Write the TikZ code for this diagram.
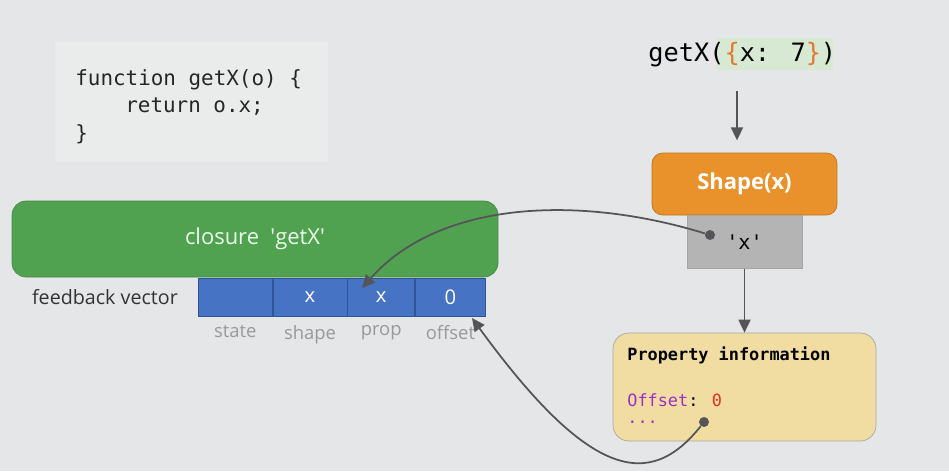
\documentclass[tikz,border=0pt]{standalone}
\usepackage{fontspec}
\setsansfont{Open Sans}
\newfontfamily\codefont{DejaVu Sans Mono}
\usepackage{tikz}
\usetikzlibrary{arrows.meta, positioning}

\definecolor{bgc}{RGB}{229,230,231}
\definecolor{codebg}{RGB}{234,235,235}
\definecolor{closureg}{RGB}{80,161,80}
\definecolor{shapeor}{RGB}{233,146,44}
\definecolor{keygray}{RGB}{180,180,181}
\definecolor{infoyel}{RGB}{241,221,162}
\definecolor{cellblue}{RGB}{70,115,196}
\definecolor{cellline}{RGB}{47,85,151}
\definecolor{argbg}{RGB}{215,233,210}
\definecolor{braceor}{RGB}{226,120,50}
\definecolor{offpurple}{RGB}{155,48,200}
\definecolor{zerored}{RGB}{225,50,30}
\definecolor{linegray}{RGB}{85,85,88}

\begin{document}
\begin{tikzpicture}[
  x=0.02cm, y=-0.02cm,
  code/.style={font=\codefont\fontsize{11.9}{14}\selectfont, text=black!85, inner sep=0pt},
  cell/.style={draw=cellline, fill=cellblue, minimum height=0.76cm, inner sep=0pt,
               text=white, font=\sffamily\fontsize{11.5}{13}\selectfont},
  cellname/.style={font=\sffamily\fontsize{10.5}{12}\selectfont, text=black!40},
  infotxt/.style={font=\codefont\fontsize{9.6}{12}\selectfont, inner sep=0pt, anchor=west},
  arrow/.style={-{Triangle[length=2.6mm, width=2.4mm]}, line width=1pt, linegray},
  dot/.style={circle, fill=linegray, inner sep=0pt, minimum size=0.2cm}
]
  \useasboundingbox (0,0) rectangle (949,471);
  \fill[bgc] (0,0) rectangle (949,471);

  % source code
  \node[fill=codebg, minimum width=5.46cm, minimum height=2.4cm] (codebox) at (191.5,102) {};
  \node[code, anchor=west] (l1) at (75,80)  {function getX(o) \{};
  \node[code, anchor=west] (l2) at (125,107) {return o.x;};
  \node[code, anchor=west] (l3) at (75,134) {\}};

  % the call
  \fill[argbg] (717,38) rectangle (833,70);
  \node[font=\codefont\fontsize{14.4}{17}\selectfont, inner sep=0pt, anchor=west] (call) at (648,55)
    {getX(\textcolor{braceor}{\{}x: 7\textcolor{braceor}{\}})};

  % shape and its key
  \node[draw=shapeor!80!black, fill=shapeor, rounded corners=6pt, minimum width=3.7cm,
        minimum height=1.24cm, text=white, font=\sffamily\bfseries\fontsize{12.5}{14}\selectfont]
        (shape) at (744.5,184) {Shape(x)};
  \node[draw=black!35, fill=keygray, minimum width=2.3cm, minimum height=1.06cm,
        font=\codefont\fontsize{11.5}{13}\selectfont, below=0pt of shape] (keyx) {'x'};
  \node[dot] (dotx) at (710,235) {};

  % property information
  \node[draw=black!35, fill=infoyel, rounded corners=9pt, minimum width=5.26cm,
        minimum height=2.16cm] (info) at (744.5,387) {};
  \node[infotxt, font=\codefont\bfseries\fontsize{9.6}{12}\selectfont] (ptitle) at (627,355) {Property information};
  \node[infotxt] (poff) at (627,400) {\textcolor{offpurple}{Offset}: \textcolor{zerored}{0}};
  \node[infotxt, text=offpurple] (pmore) at (627,422) {...};
  \node[dot] (dotv) at (704,422) {};

  % closure and feedback vector
  \node[draw=closureg!85!black, fill=closureg, rounded corners=8pt, minimum width=9.72cm,
        minimum height=1.52cm, text=white!92!green, font=\sffamily\fontsize{12.5}{15}\selectfont]
        (closure) at (255,239) {closure\ \ \textquotesingle getX\textquotesingle};
  \node[cell, minimum width=1.48cm, anchor=north west] (st) at (198,278) {};
  \node[cell, minimum width=1.48cm, right=0pt of st] (sh) {x};
  \node[cell, minimum width=1.34cm, right=0pt of sh] (pr) {x};
  \node[cell, minimum width=1.40cm, right=0pt of pr] (of) {0};
  \node[font=\sffamily\fontsize{11.2}{13}\selectfont, text=black!80, left=0.28cm of st] (fbv) {feedback vector};
  \node[cellname, below=0.05cm of st] (stn) {state};
  \node[cellname, below=0.05cm of sh] (shn) {shape};
  \node[cellname, below=0.05cm of pr] (prn) {prop};
  \node[cellname, below=0.05cm of of] (ofn) {offset};
  \coordinate (prtip) at (362,288);
  \coordinate (oftip) at (472,318);

  % connectors
  \draw[arrow, shorten <=13pt, shorten >=7pt] (call.south -| 737,0) -- (shape.north -| 737,0);
  \draw[arrow] (keyx) -- (info);
  \draw[arrow] (dotx) .. controls (580,195) and (440,200) .. (prtip);
  \draw[arrow] (dotv) .. controls (650,490) and (590,480) .. (oftip);
\end{tikzpicture}
\end{document}
